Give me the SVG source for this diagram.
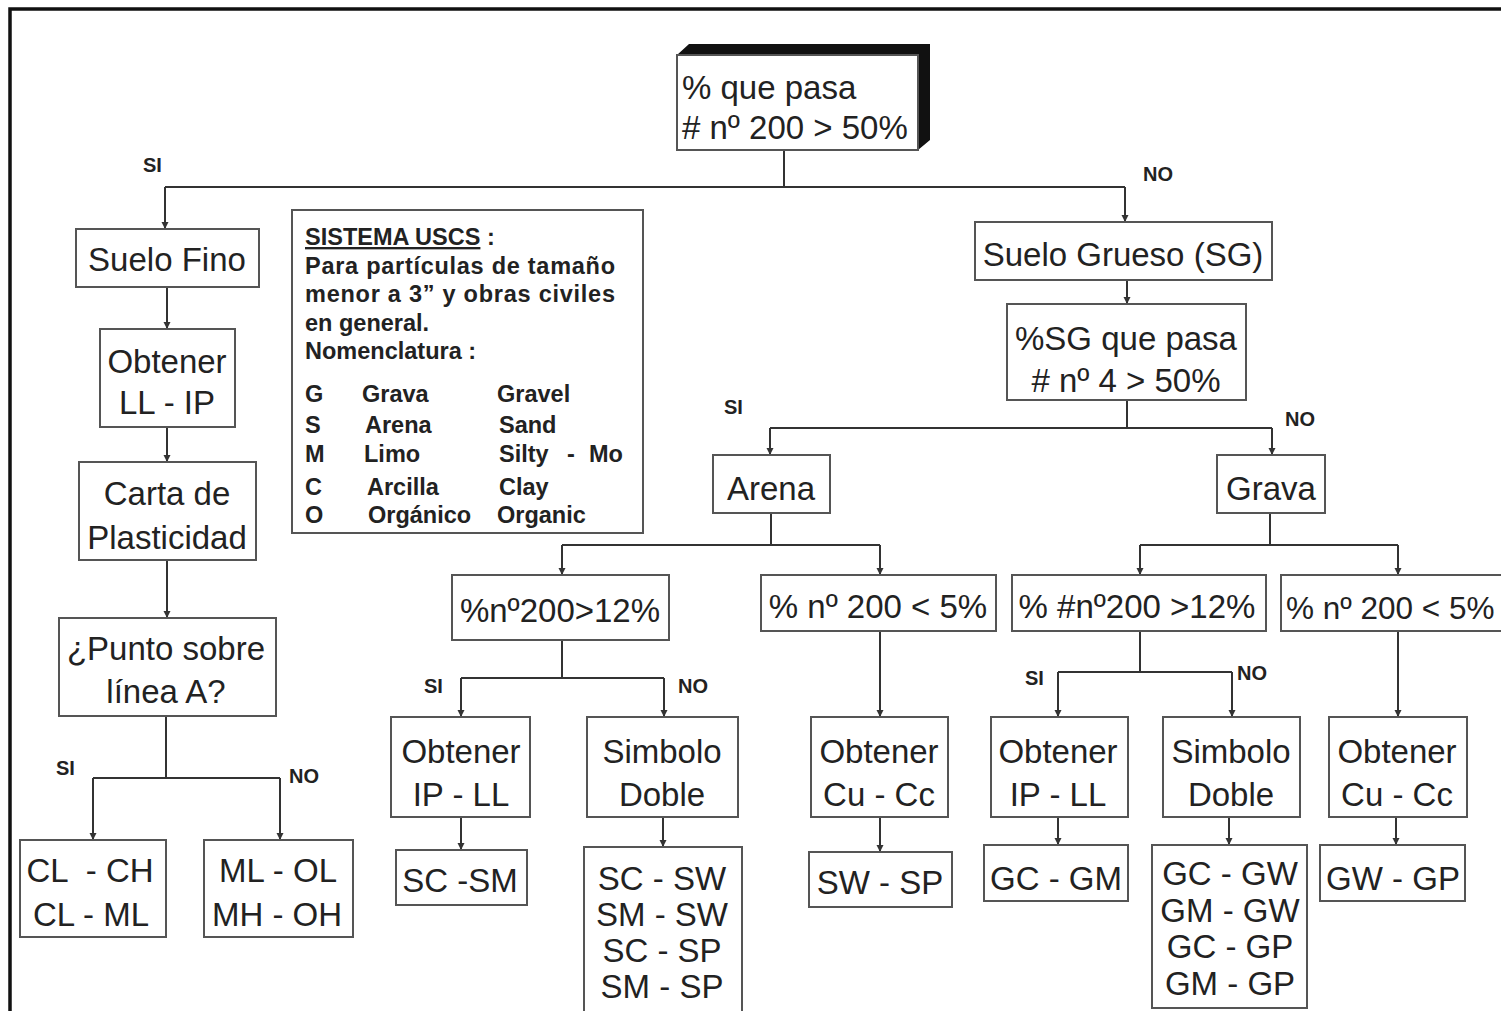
<svg xmlns="http://www.w3.org/2000/svg" width="1501" height="1011" viewBox="0 0 1501 1011">
<defs>
<marker id="dn" markerUnits="userSpaceOnUse" markerWidth="8" markerHeight="8" refX="4" refY="7" viewBox="0 0 8 8" orient="0">
<path d="M0.5,0 L7.5,0 L4,7 Z" fill="#333"/>
</marker>
<style>
.b{fill:#fff;stroke:#555;stroke-width:2}
.t{font-family:"Liberation Sans",Arial,sans-serif;font-size:33px;fill:#222;text-anchor:middle}
.l{font-family:"Liberation Sans",Arial,sans-serif;font-size:20px;font-weight:bold;fill:#222}
.g{font-family:"Liberation Sans",Arial,sans-serif;font-size:23.5px;font-weight:bold;fill:#222}
.c{fill:none;stroke:#333;stroke-width:2}
.a{fill:none;stroke:#333;stroke-width:2;marker-end:url(#dn)}
</style>
</defs>
<rect width="1501" height="1011" fill="#fff"/>
<path d="M10,1011 V9 H1501" fill="none" stroke="#111" stroke-width="3.5"/>

<g id="connectors">
<path class="c" d="M784,150 V187 M165,187 H1125"/>
<path class="a" d="M165,187 V229"/>
<path class="a" d="M1125,187 V222"/>
<path class="a" d="M167,287 V329"/>
<path class="a" d="M167,427 V462"/>
<path class="a" d="M167,560 V618"/>
<path class="c" d="M166,716 V778 M93,778 H280"/>
<path class="a" d="M93,778 V840"/>
<path class="a" d="M280,778 V840"/>
<path class="a" d="M1127,280 V304"/>
<path class="c" d="M1127,400 V428 M770,428 H1272"/>
<path class="a" d="M770,428 V455"/>
<path class="a" d="M1272,428 V455"/>
<path class="c" d="M771,513 V545 M562,545 H880"/>
<path class="a" d="M562,545 V575"/>
<path class="a" d="M880,545 V575"/>
<path class="c" d="M1270,513 V545 M1140,545 H1398"/>
<path class="a" d="M1140,545 V575"/>
<path class="a" d="M1398,545 V575"/>
<path class="c" d="M562,640 V678 M461,678 H664"/>
<path class="a" d="M461,678 V717"/>
<path class="a" d="M664,678 V717"/>
<path class="a" d="M880,631 V717"/>
<path class="c" d="M1140,631 V672 M1058,672 H1232"/>
<path class="a" d="M1058,672 V717"/>
<path class="a" d="M1232,672 V717"/>
<path class="a" d="M1398,631 V717"/>
<path class="a" d="M461,817 V850"/>
<path class="a" d="M663,817 V847"/>
<path class="a" d="M880,817 V852"/>
<path class="a" d="M1058,817 V845"/>
<path class="a" d="M1229,817 V845"/>
<path class="a" d="M1396,817 V845"/>
<text class="l" x="143" y="172">SI</text>
<text class="l" x="1143" y="181">NO</text>
<text class="l" x="56" y="775">SI</text>
<text class="l" x="289" y="783">NO</text>
<text class="l" x="724" y="414">SI</text>
<text class="l" x="1285" y="426">NO</text>
<text class="l" x="424" y="693">SI</text>
<text class="l" x="678" y="693">NO</text>
<text class="l" x="1025" y="685">SI</text>
<text class="l" x="1237" y="680">NO</text>
</g>

<g id="n-top">
<polygon points="677,55 689,44 930,44 930,140 918,150 918,55" fill="#111"/>
<rect class="b" x="677" y="55" width="241" height="95"/>
<text class="t" style="text-anchor:start" x="682" y="99">% que pasa</text>
<text class="t" style="text-anchor:start" x="682" y="139"># nº 200 &gt; 50%</text>
</g>

<g id="n-suelo-fino"><rect class="b" x="76" y="229" width="183" height="58"/><text class="t" x="167" y="271">Suelo Fino</text></g>
<g id="n-obtener-ll-ip"><rect class="b" x="100" y="329" width="135" height="98"/><text class="t" x="167" y="373">Obtener</text><text class="t" x="167" y="414">LL - IP</text></g>
<g id="n-carta"><rect class="b" x="79" y="462" width="177" height="98"/><text class="t" x="167" y="505">Carta de</text><text class="t" x="167" y="549">Plasticidad</text></g>
<g id="n-punto"><rect class="b" x="59" y="618" width="217" height="98"/><text class="t" x="166" y="660">¿Punto sobre</text><text class="t" x="166" y="703">línea A?</text></g>
<g id="n-cl"><rect class="b" x="20" y="840" width="146" height="97"/><text class="t" x="90" y="882" xml:space="preserve">CL  - CH</text><text class="t" x="91" y="926">CL - ML</text></g>
<g id="n-ml"><rect class="b" x="204" y="840" width="149" height="97"/><text class="t" x="278" y="882">ML - OL</text><text class="t" x="277" y="926">MH - OH</text></g>

<g id="legend">
<rect class="b" x="292" y="210" width="351" height="323"/>
<text class="g" x="305" y="245"><tspan text-decoration="underline">SISTEMA USCS</tspan> :</text>
<text class="g" x="305" y="274" textLength="310">Para partículas de tamaño</text>
<text class="g" x="305" y="302" textLength="310">menor a 3” y obras civiles</text>
<text class="g" x="305" y="331">en general.</text>
<text class="g" x="305" y="359">Nomenclatura :</text>
<text class="g" x="305" y="402">G</text><text class="g" x="362" y="402">Grava</text><text class="g" x="497" y="402">Gravel</text>
<text class="g" x="305" y="433">S</text><text class="g" x="365" y="433">Arena</text><text class="g" x="499" y="433">Sand</text>
<text class="g" x="305" y="462">M</text><text class="g" x="364" y="462">Limo</text><text class="g" x="499" y="462">Silty<tspan x="567">-</tspan><tspan x="589">Mo</tspan></text>
<text class="g" x="305" y="495">C</text><text class="g" x="367" y="495">Arcilla</text><text class="g" x="499" y="495">Clay</text>
<text class="g" x="305" y="523">O</text><text class="g" x="368" y="523">Orgánico</text><text class="g" x="497" y="523">Organic</text>
</g>

<g id="n-suelo-grueso"><rect class="b" x="975" y="222" width="297" height="58"/><text class="t" x="1123" y="266">Suelo Grueso (SG)</text></g>
<g id="n-sg-pasa"><rect class="b" x="1007" y="304" width="239" height="96"/><text class="t" x="1126" y="350">%SG que pasa</text><text class="t" x="1126" y="392"># nº 4 &gt; 50%</text></g>
<g id="n-arena"><rect class="b" x="713" y="455" width="117" height="58"/><text class="t" x="771" y="500">Arena</text></g>
<g id="n-grava"><rect class="b" x="1217" y="455" width="108" height="58"/><text class="t" x="1271" y="500">Grava</text></g>
<g id="n-a12"><rect class="b" x="452" y="575" width="217" height="65"/><text class="t" x="560" y="622">%nº200&gt;12%</text></g>
<g id="n-a5"><rect class="b" x="761" y="575" width="235" height="56"/><text class="t" x="878" y="618">% nº 200 &lt; 5%</text></g>
<g id="n-g12"><rect class="b" x="1012" y="575" width="254" height="56"/><text class="t" x="1137" y="618">% #nº200 &gt;12%</text></g>
<g id="n-g5"><rect class="b" x="1281" y="575" width="240" height="56"/><text class="t" style="text-anchor:start;font-size:31.5px" x="1286" y="619">% nº 200 &lt; 5%</text></g>
<g id="n-a-ipll"><rect class="b" x="391" y="717" width="139" height="100"/><text class="t" x="461" y="763">Obtener</text><text class="t" x="461" y="806">IP - LL</text></g>
<g id="n-a-doble"><rect class="b" x="587" y="717" width="151" height="100"/><text class="t" x="662" y="763">Simbolo</text><text class="t" x="662" y="806">Doble</text></g>
<g id="n-a-cucc"><rect class="b" x="811" y="717" width="137" height="100"/><text class="t" x="879" y="763">Obtener</text><text class="t" x="879" y="806">Cu - Cc</text></g>
<g id="n-g-ipll"><rect class="b" x="991" y="717" width="137" height="100"/><text class="t" x="1058" y="763">Obtener</text><text class="t" x="1058" y="806">IP - LL</text></g>
<g id="n-g-doble"><rect class="b" x="1163" y="717" width="137" height="100"/><text class="t" x="1231" y="763">Simbolo</text><text class="t" x="1231" y="806">Doble</text></g>
<g id="n-g-cucc"><rect class="b" x="1329" y="717" width="138" height="100"/><text class="t" x="1397" y="763">Obtener</text><text class="t" x="1397" y="806">Cu - Cc</text></g>
<g id="n-scsm"><rect class="b" x="396" y="850" width="131" height="55"/><text class="t" x="460" y="892">SC -SM</text></g>
<g id="n-scsw"><rect class="b" x="584" y="847" width="158" height="175"/><text class="t" x="662" y="890">SC - SW</text><text class="t" x="662" y="926">SM - SW</text><text class="t" x="662" y="962">SC - SP</text><text class="t" x="662" y="998">SM - SP</text></g>
<g id="n-swsp"><rect class="b" x="809" y="852" width="143" height="55"/><text class="t" x="880" y="894">SW - SP</text></g>
<g id="n-gcgm"><rect class="b" x="984" y="845" width="144" height="56"/><text class="t" x="1056" y="890">GC - GM</text></g>
<g id="n-gcgw"><rect class="b" x="1152" y="845" width="155" height="163"/><text class="t" x="1230" y="885">GC - GW</text><text class="t" x="1230" y="922">GM - GW</text><text class="t" x="1230" y="958">GC - GP</text><text class="t" x="1230" y="995">GM - GP</text></g>
<g id="n-gwgp"><rect class="b" x="1320" y="845" width="145" height="56"/><text class="t" x="1393" y="890">GW - GP</text></g>
</svg>
